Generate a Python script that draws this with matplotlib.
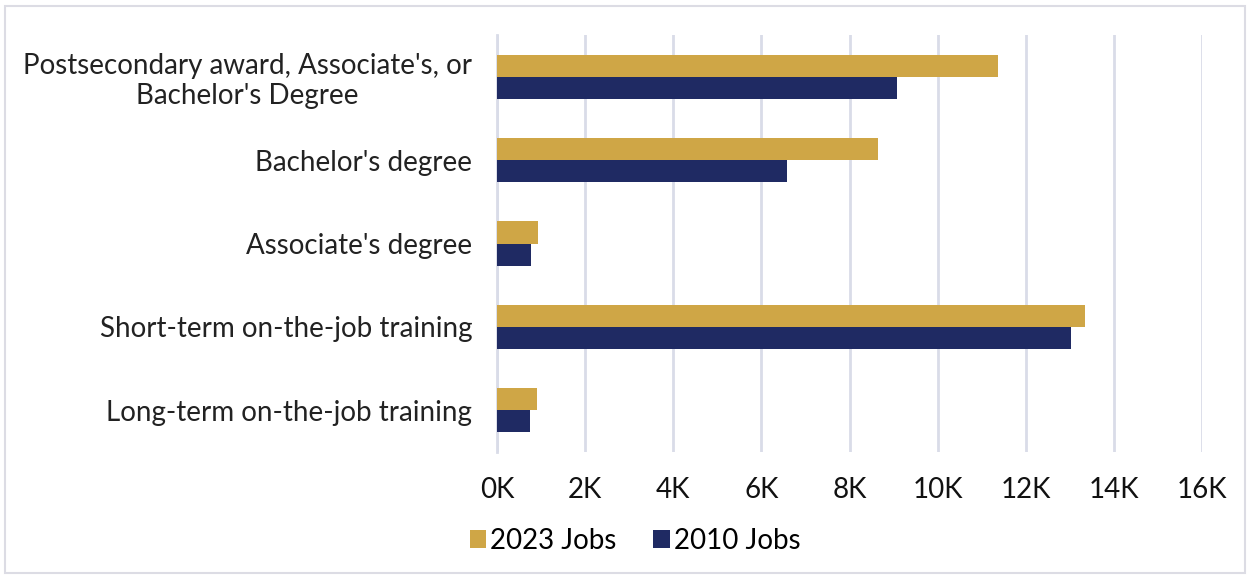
import matplotlib.pyplot as plt
import numpy as np
from matplotlib.patches import Rectangle
from matplotlib.ticker import FuncFormatter

categories = ["Postsecondary award, Associate's, or\nBachelor's Degree",
              "Bachelor's degree",
              "Associate's degree",
              "Short-term on-the-job training",
              "Long-term on-the-job training"]
jobs_2023 = [11370, 8650, 920, 13350, 900]
jobs_2010 = [9080, 6580, 770, 13030, 760]

gold = "#CFA646"
navy = "#1F2A63"
grid_col = "#D9DCE8"

fig = plt.figure(figsize=(12.5, 5.75), dpi=100)
ax = fig.add_axes([0.3976, 0.214, 0.564, 0.725])

y = np.arange(len(categories))
h = 0.265
ax.barh(y - h / 2, jobs_2023, height=h, color=gold, label="2023 Jobs", zorder=3)
ax.barh(y + h / 2, jobs_2010, height=h, color=navy, label="2010 Jobs", zorder=3)

ax.set_ylim(len(categories) - 0.5, -0.5)
ax.set_xlim(0, 16000)
ax.set_xticks(np.arange(0, 16001, 2000))
ax.xaxis.set_major_formatter(FuncFormatter(lambda v, p: f"{int(v / 1000)}K"))
ax.set_yticks(y)
ax.set_yticklabels(categories, fontfamily="Lato", fontsize=20, color="#222222",
                   multialignment="center", linespacing=1.2)
for lab in ax.get_xticklabels():
    lab.set_fontfamily("Lato")
    lab.set_fontsize(20)
    lab.set_color("#111111")

ax.grid(axis="x", color=grid_col, linewidth=2, zorder=0)
for s in ["top", "right", "bottom"]:
    ax.spines[s].set_visible(False)
ax.spines["left"].set_color(grid_col)
ax.spines["left"].set_linewidth(2)
ax.tick_params(axis="both", length=0)
ax.tick_params(axis="y", pad=18)
ax.tick_params(axis="x", pad=18)

leg = fig.legend(loc="center", bbox_to_anchor=(0.508, 0.059), ncol=2, frameon=False,
                 prop={"family": "Lato", "size": 20},
                 handlelength=0.6, handleheight=0.6, handletextpad=0.15, columnspacing=1.3)

fig.patches.append(Rectangle((0.004, 0.004), 0.992, 0.986, transform=fig.transFigure,
                             fill=False, edgecolor="#DCDCE4", linewidth=1.5))

fig.savefig("out.png", dpi=100)
